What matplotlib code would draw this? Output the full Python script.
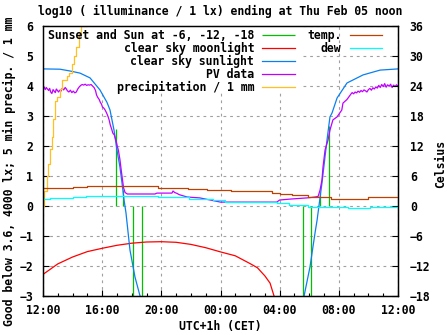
import matplotlib
matplotlib.use("Agg")
import matplotlib.pyplot as plt
from matplotlib.lines import Line2D
from matplotlib.patches import Rectangle
from matplotlib.font_manager import FontProperties
from matplotlib.ticker import MultipleLocator

# ---------------- data (x = hours since 12:00 CET) ----------------
title = "log10 ( illuminance / 1 lx) ending at Thu Feb 05 noon"
ylabel = "Good below 3.6, 4000 lx; 5 min precip. / 1 mm"
y2label = "Celsius"
xlabel = "UTC+1h (CET)"
xtick_hours = [0, 4, 8, 12, 16, 20, 24]
xtick_labels = ["12:00", "16:00", "20:00", "00:00", "04:00", "08:00", "12:00"]
y2_ticks = [-18, -12, -6, 0, 6, 12, 18, 24, 30, 36]

# Sunset / sun at -6, -12, -18 (impulses)
sun_h = [4.94, 5.41, 6.08, 6.69, 17.58, 18.12, 18.73, 19.34]
sun_v = [2.57, 0.53, -4.0, -6.0, -6.0, -4.0, 0.43, 2.67]

# clear sky moonlight
moon_h = [0, 1, 2, 3, 4, 5, 6, 7, 8, 9, 10, 11, 12, 13, 14, 14.5, 15, 15.35, 15.65]
moon_v = [-2.28, -1.93, -1.70, -1.52, -1.41, -1.31, -1.24, -1.20, -1.19, -1.21,
          -1.28, -1.39, -1.53, -1.66, -1.92, -2.06, -2.33, -2.57, -3.05]

# clear sky sunlight
sunl_h = [0, 1.15, 1.83, 2.5, 3.18, 3.85, 4.33, 4.53, 4.8, 5.0, 5.2, 5.34, 5.48,
          5.61, 5.88, 6.22, 6.56, 6.63,
          17.58, 17.65, 18.05, 18.39, 18.53, 18.86, 19.2, 19.4, 19.54, 19.88,
          20.55, 21.64, 22.79, 24.0]
sunl_v = [4.57, 4.56, 4.50, 4.43, 4.27, 3.87, 3.45, 3.20, 2.53, 1.87, 1.30, 0.77, 0.20,
          -0.23, -1.47, -2.37, -3.00, -3.30,
          -3.30, -3.00, -2.03, -0.90, -0.47, 0.77, 2.20, 2.97, 3.10, 3.60,
          4.10, 4.37, 4.53, 4.57]

# PV data
pv_h = [0.00, 0.08, 0.15, 0.22, 0.30, 0.38, 0.45, 0.52, 0.60, 0.68, 0.75, 0.83, 0.90,
        0.98, 1.05, 1.13, 1.20, 1.30, 1.40, 1.50, 1.58, 1.65, 1.75, 1.85, 1.95, 2.05,
        2.15, 2.25, 2.35, 2.45, 2.55, 2.65, 2.75, 2.85, 2.95, 3.05, 3.15, 3.25, 3.35,
        3.45, 3.55, 3.62, 3.70, 3.80, 3.88, 3.95, 4.02, 4.10, 4.20, 4.30, 4.40, 4.47,
        4.55, 4.65, 4.72, 4.82, 4.95, 5.02, 5.10, 5.20, 5.30, 5.38, 5.45, 5.55, 5.70,
        7.57, 7.70, 8.72, 8.79, 8.90, 9.06, 9.20, 9.74, 10.6, 11.3, 12.0, 15.8, 16.0,
        16.7, 17.85, 18.4, 18.6, 18.73, 18.86, 18.93, 19.07, 19.27, 19.4, 19.6, 19.88,
        20.2, 20.28, 20.55, 20.8, 20.9, 21.0, 21.1, 21.2, 21.3, 21.4, 21.5, 21.6, 21.7,
        21.8, 21.9, 22.0, 22.1, 22.2, 22.3, 22.4, 22.5, 22.6, 22.7, 22.8, 22.9, 23.0,
        23.1, 23.2, 23.3, 23.4, 23.5, 23.6, 23.7, 23.8, 23.9, 24.0]
pv_v = [3.93, 3.97, 3.88, 3.95, 3.90, 3.85, 3.92, 3.80, 3.75, 3.88, 3.83, 3.78, 3.90,
        3.85, 3.80, 3.86, 3.82, 3.92, 3.87, 3.95, 3.90, 3.84, 3.80, 3.86, 3.78, 3.83,
        3.77, 3.80, 3.90, 3.97, 4.02, 4.05, 4.03, 4.06, 4.02, 4.04, 4.03, 4.05, 4.00,
        3.95, 3.85, 3.70, 3.62, 3.55, 3.45, 3.40, 3.30, 3.27, 3.20, 3.10, 2.98, 2.87,
        2.70, 2.55, 2.43, 2.37, 2.15, 2.00, 1.85, 1.55, 1.15, 0.85, 0.60, 0.45, 0.40,
        0.40, 0.43, 0.43, 0.50, 0.45, 0.42, 0.38, 0.30, 0.27, 0.20, 0.13, 0.13, 0.20,
        0.23, 0.27, 0.30, 0.32, 0.53, 0.87, 1.30, 1.87, 2.20, 2.53, 2.87, 2.97,
        3.20, 3.43, 3.55, 3.72, 3.78, 3.74, 3.80, 3.77, 3.83, 3.79, 3.85, 3.81, 3.87,
        3.84, 3.80, 3.88, 3.92, 3.86, 3.94, 3.90, 3.97, 3.93, 4.02, 3.95, 4.05, 3.98,
        4.08, 3.96, 4.04, 3.99, 4.06, 3.95, 4.03, 3.98, 4.04, 4.00]

# precipitation / 1 mm
prec_h = [0.0, 0.1, 0.25, 0.35, 0.5, 0.62, 0.68, 0.8, 0.95, 1.15, 1.3, 1.6, 1.75,
          1.95, 2.1, 2.25, 2.4, 2.6, 2.95, 3.2]
prec_v = [0.0, 0.5, 1.0, 1.4, 1.9, 2.3, 2.9, 3.5, 3.65, 3.9, 4.2, 4.35, 4.45,
          4.75, 5.0, 5.3, 5.75, 6.0, 6.4, 6.4]

# temperature and dew point (Celsius)
temp_h = [0.0, 2.0, 2.95, 3.85, 7.8, 9.0, 9.8, 11.1, 12.7, 15.5, 16.0, 16.8, 17.9,
          19.5, 22.0, 24.0]
temp_v = [3.7, 3.8, 4.07, 4.0, 3.7, 3.6, 3.4, 3.2, 3.05, 2.7, 2.5, 2.2, 1.75,
          1.45, 1.75, 1.75]
dew_h = [0.0, 0.5, 2.0, 2.9, 7.8, 9.9, 11.5, 12.3, 15.8, 16.6, 17.9, 20.6, 22.1,
         23.3, 24.0]
dew_v = [1.4, 1.53, 1.73, 2.07, 1.87, 1.4, 1.2, 0.87, 0.53, 0.2, -0.13, -0.47,
         -0.27, -0.13, -0.13]

# ---------------- styling ----------------
FONT = FontProperties(family="DejaVu Sans Mono", weight="bold", size=8.3)
plt.rcParams["font.family"] = ["DejaVu Sans Mono"]
plt.rcParams["font.weight"] = "bold"
plt.rcParams["font.size"] = 8.3

C_GREEN = "#00c000"
C_RED = "#ff0000"
C_BLUE = "#0a80f0"
C_PURPLE = "#c000ff"
C_ORANGE = "#ffc020"
C_BROWN = "#c04000"
C_CYAN = "#00ffff"
LW = 0.9

fig = plt.figure(figsize=(4.47, 3.35), dpi=100)
ax = fig.add_axes([43 / 447, (335 - 296) / 335, 355 / 447, 270 / 335])
ax2 = ax.twinx()

ax.set_xlim(0, 24)
ax.set_ylim(-3, 6)
ax2.set_ylim(-18, 36)

ax.set_axisbelow(True)
ax.grid(True, color="#a0a0a0", linestyle=(0, (2.5, 3.5)), linewidth=0.8)

# white key background (under data, over grid)
ax.add_patch(Rectangle((0, 0.763), 0.73, 0.237, transform=ax.transAxes,
                       facecolor="white", edgecolor="none", zorder=1))

h_sun = ax.vlines(sun_h, 0, sun_v, colors=C_GREEN, linewidth=LW, zorder=2)
h_moon, = ax.plot(moon_h, moon_v, color=C_RED, lw=LW, zorder=2)
h_sunl, = ax.plot(sunl_h, sunl_v, color=C_BLUE, lw=LW, zorder=2)
h_pv, = ax.plot(pv_h, pv_v, color=C_PURPLE, lw=LW, zorder=2)
h_prec, = ax.plot(prec_h, prec_v, color=C_ORANGE, lw=LW, drawstyle="steps-post", zorder=2)
h_temp, = ax2.plot(temp_h, temp_v, color=C_BROWN, lw=LW, drawstyle="steps-post")
h_dew, = ax2.plot(dew_h, dew_v, color=C_CYAN, lw=LW, drawstyle="steps-post")

# ticks
ax.set_xticks(xtick_hours)
ax.set_xticklabels(xtick_labels)
ax.xaxis.set_minor_locator(MultipleLocator(1))
ax.yaxis.set_major_locator(MultipleLocator(1))
ax2.set_yticks(y2_ticks)
ax.tick_params(axis="both", which="major", direction="in", length=4, width=0.8,
               pad=7, right=False, top=False)
ax.tick_params(axis="x", which="minor", direction="in", length=2, width=0.8, top=False)
ax.tick_params(axis="x", which="major", pad=6)
ax2.tick_params(axis="y", direction="in", length=4, width=0.8, pad=8.5)
for lab in ax.get_xticklabels() + ax.get_yticklabels() + ax2.get_yticklabels():
    lab.set_fontproperties(FONT)

for a in (ax, ax2):
    for s in a.spines.values():
        s.set_linewidth(0.9)

ax.set_title(title, fontproperties=FONT, pad=8)
ax.set_xlabel(xlabel, fontproperties=FONT, labelpad=2)
ax.set_ylabel(ylabel, fontproperties=FONT)
ax.yaxis.set_label_coords(-0.076, 0.46)
ax2.set_ylabel(y2label, fontproperties=FONT, rotation=90)
ax2.yaxis.set_label_coords(1.101, 0.49)

blank = [Line2D([], [], color="none") for _ in range(3)]
handles = [h_sun, h_moon, h_sunl, h_pv, h_prec, h_temp, h_dew] + blank
labels = ["Sunset and Sun at -6, -12, -18", "clear sky moonlight", "clear sky sunlight",
          "PV data", "precipitation / 1 mm", "temp.", "dew", "", "", ""]
leg = ax2.legend(handles, labels, ncol=2, loc="upper left",
                 bbox_to_anchor=(0.014, 0.99), borderaxespad=0, borderpad=0,
                 frameon=False, markerfirst=False, prop=FONT,
                 handlelength=2.85, handletextpad=0.7, columnspacing=1.04,
                 labelspacing=0.0)

fig.savefig("out.png", dpi=100)
